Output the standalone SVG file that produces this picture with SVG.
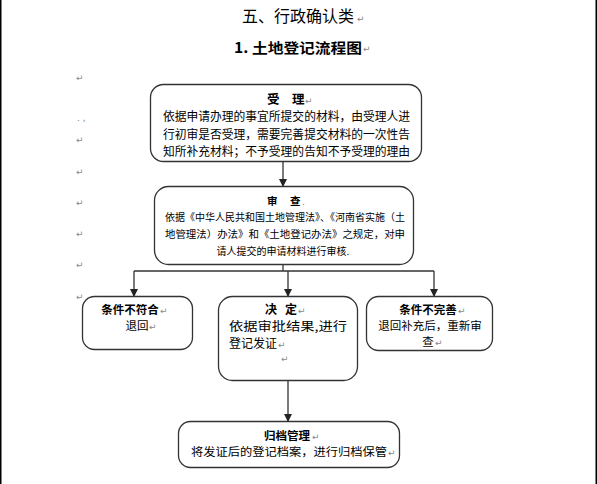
<svg xmlns="http://www.w3.org/2000/svg" width="597" height="484" viewBox="0 0 597 484">
<style>
.box{fill:#fff;stroke:#333;stroke-width:1.3}
.t{font-family:"Noto Sans CJK SC","Noto Sans",sans-serif;fill:#000}
.b{font-weight:bold}
.m{font-family:"DejaVu Sans",sans-serif;fill:#888;font-size:9px}
.c{fill:none;stroke:#333;stroke-width:1.3}
</style>
<defs>
<marker id="ar" viewBox="0 0 8 8" refX="7" refY="4" markerWidth="8" markerHeight="8" markerUnits="userSpaceOnUse" orient="auto">
<path d="M0,0 L8,4 L0,8 Z" fill="#222"/>
</marker>
</defs>
<rect x="0" y="0" width="597" height="484" fill="#fff"/>
<rect x="0" y="0" width="1.5" height="484" fill="#000"/>
<rect x="595.5" y="0" width="1.5" height="484" fill="#000"/>

<g id="title">
<text class="t" x="298" y="22" font-size="16" text-anchor="middle">五、行政确认类</text>
<text class="m" x="357" y="22">↵</text>
<text class="t b" x="298" y="53" font-size="14" textLength="128" lengthAdjust="spacingAndGlyphs" text-anchor="middle">1. 土地登记流程图</text>
<text class="m" x="363" y="52">↵</text>
</g>

<g id="margin-marks">
<text class="m" x="76" y="81">↵</text>
<text class="m" x="77" y="121" font-size="6">. ,</text>
<text class="m" x="76" y="143">↵</text>
<text class="m" x="76" y="175">↵</text>
<text class="m" x="76" y="206">↵</text>
<text class="m" x="76" y="237">↵</text>
<text class="m" x="76" y="268">↵</text>
<text class="m" x="76" y="300">↵</text>
</g>

<g id="connectors">
<line class="c" x1="283" y1="162" x2="283" y2="186" marker-end="url(#ar)"/>
<polyline class="c" points="283,264 283,271"/>
<polyline class="c" points="134,271 434,271"/>
<line class="c" x1="134" y1="271" x2="134" y2="296" marker-end="url(#ar)"/>
<line class="c" x1="288" y1="271" x2="288" y2="296" marker-end="url(#ar)"/>
<line class="c" x1="434" y1="271" x2="434" y2="296" marker-end="url(#ar)"/>
<line class="c" x1="288" y1="380" x2="288" y2="421" marker-end="url(#ar)"/>
</g>

<g id="accept">
<rect class="box" x="150.5" y="84.5" width="271" height="77" rx="13"/>
<text class="t b" y="104" font-size="12.5"><tspan x="267">受</tspan><tspan x="292">理</tspan></text>
<text class="m" x="305" y="104">↵</text>
<text class="t" x="163" y="121" font-size="12" textLength="247" lengthAdjust="spacingAndGlyphs">依据申请办理的事宜所提交的材料，由受理人进</text>
<text class="t" x="163" y="138.5" font-size="12" textLength="247" lengthAdjust="spacingAndGlyphs">行初审是否受理，需要完善提交材料的一次性告</text>
<text class="t" x="163" y="156" font-size="12" textLength="247" lengthAdjust="spacingAndGlyphs">知所补充材料；不予受理的告知不予受理的理由</text>
</g>

<g id="review">
<rect class="box" x="154.5" y="186.5" width="259" height="78" rx="14"/>
<text class="t b" y="205" font-size="10.5"><tspan x="267">审</tspan><tspan x="290">查</tspan></text>
<text class="m" x="302" y="205" font-size="6">.</text>
<text class="t" x="165" y="221" font-size="10" textLength="240" lengthAdjust="spacingAndGlyphs">依据《中华人民共和国土地管理法》、《河南省实施（土</text>
<text class="t" x="165" y="238" font-size="10" textLength="240" lengthAdjust="spacingAndGlyphs">地管理法）办法》和《土地登记办法》之规定，对申</text>
<text class="t" x="283" y="255" font-size="10" text-anchor="middle">请人提交的申请材料进行审核.</text>
</g>

<g id="reject">
<rect class="box" x="82.5" y="296.5" width="110" height="53" rx="12"/>
<text class="t b" x="130" y="314" font-size="11.5" text-anchor="middle">条件不符合</text>
<text class="m" x="160" y="314">↵</text>
<text class="t" x="137" y="330" font-size="11.5" text-anchor="middle">退回</text>
<text class="m" x="149" y="330">↵</text>
</g>

<g id="decide">
<rect class="box" x="218.5" y="296.5" width="139" height="84" rx="14"/>
<text class="t b" y="314" font-size="12"><tspan x="265">决</tspan><tspan x="285">定</tspan></text>
<text class="m" x="298" y="314">↵</text>
<text class="t" x="229" y="331" font-size="12" textLength="118" lengthAdjust="spacingAndGlyphs">依据审批结果,进行</text>
<text class="t" x="229" y="348" font-size="12">登记发证</text>
<text class="m" x="278" y="348">↵</text>
<text class="m" x="281" y="362">↵</text>
</g>

<g id="incomplete">
<rect class="box" x="366.5" y="296.5" width="126" height="54" rx="12"/>
<text class="t b" x="428" y="314" font-size="11.5" text-anchor="middle">条件不完善</text>
<text class="m" x="458" y="314">↵</text>
<text class="t" x="430" y="330" font-size="11.5" text-anchor="middle">退回补充后，重新审</text>
<text class="t" x="428" y="346" font-size="11.5" text-anchor="middle">查</text>
<text class="m" x="435" y="346">↵</text>
</g>

<g id="archive">
<rect class="box" x="178.5" y="421.5" width="221" height="46" rx="12"/>
<text class="t b" x="287" y="440" font-size="11.5" text-anchor="middle">归档管理</text>
<text class="m" x="312" y="440">↵</text>
<text class="t" x="191" y="456" font-size="11.5" textLength="196" lengthAdjust="spacingAndGlyphs">将发证后的登记档案，进行归档保管</text>
<text class="m" x="388" y="456">↵</text>
</g>
</svg>
